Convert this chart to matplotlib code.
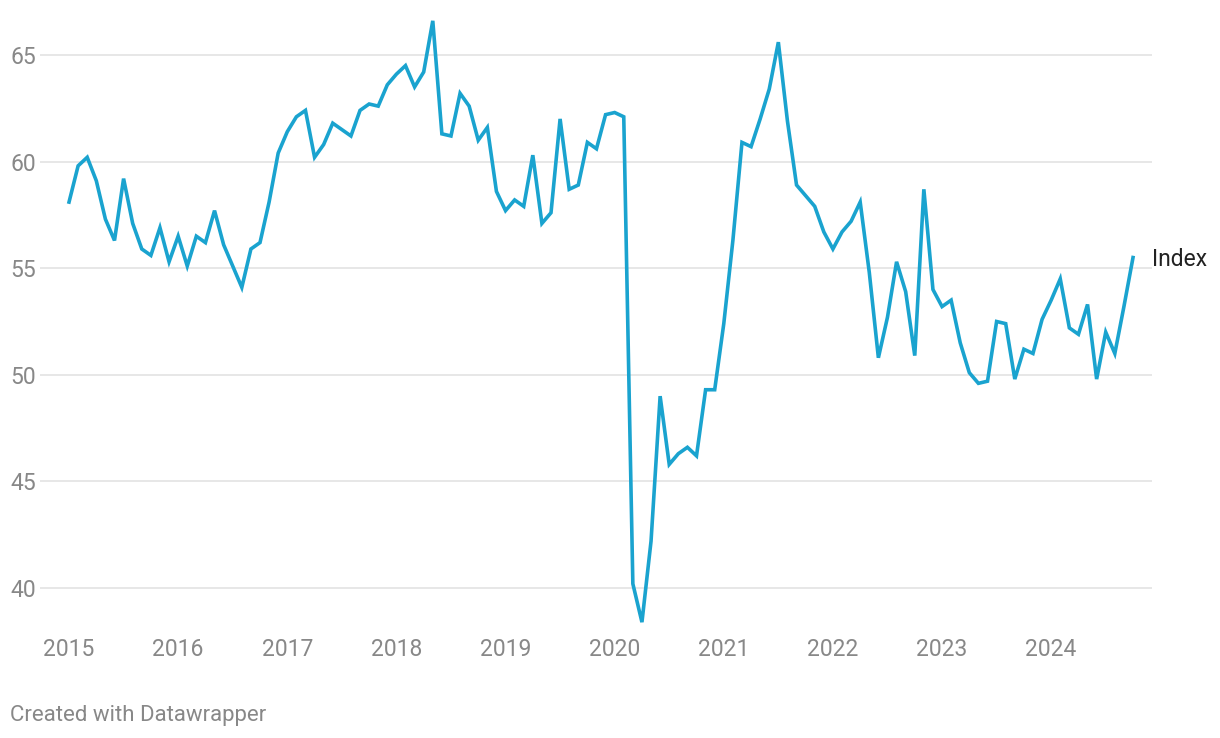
import numpy as np
import matplotlib.pyplot as plt

plt.rcParams['font.family'] = ['Roboto', 'DejaVu Sans']

# Monthly index values, Jan 2015 - Oct 2024
values = [
    58.1, 59.8, 60.2, 59.1, 57.3, 56.3, 59.2, 57.1, 55.9, 55.6, 56.9, 55.3,  # 2015
    56.5, 55.1, 56.5, 56.2, 57.7, 56.1, 55.1, 54.1, 55.9, 56.2, 58.1, 60.4,  # 2016
    61.4, 62.1, 62.4, 60.2, 60.8, 61.8, 61.5, 61.2, 62.4, 62.7, 62.6, 63.6,  # 2017
    64.1, 64.5, 63.5, 64.2, 66.6, 61.3, 61.2, 63.2, 62.6, 61.0, 61.6, 58.6,  # 2018
    57.7, 58.2, 57.9, 60.3, 57.1, 57.6, 62.0, 58.7, 58.9, 60.9, 60.6, 62.2,  # 2019
    62.3, 62.1, 40.2, 38.4, 42.2, 49.0, 45.8, 46.3, 46.6, 46.2, 49.3, 49.3,  # 2020
    52.4, 56.3, 60.9, 60.7, 62.0, 63.4, 65.6, 61.9, 58.9, 58.4, 57.9, 56.7,  # 2021
    55.9, 56.7, 57.2, 58.1, 54.8, 50.8, 52.7, 55.3, 53.9, 50.9, 58.7, 54.0,  # 2022
    53.2, 53.5, 51.5, 50.1, 49.6, 49.7, 52.5, 52.4, 49.8, 51.2, 51.0, 52.6,  # 2023
    53.5, 54.5, 52.2, 51.9, 53.3, 49.8, 52.0, 51.0, 53.2, 55.5,              # 2024
]
start_year = 2015
years = list(range(2015, 2025))
y_ticks = [40, 45, 50, 55, 60, 65]
series_label = "Index"

t = start_year + np.arange(len(values)) / 12.0

fig = plt.figure(figsize=(12.2, 7.38), dpi=100)
ax = fig.add_axes([40 / 1220, 1 - 630.7 / 738, (1152 - 40) / 1220, (630.7 - 12.3) / 738])

line_color = "#1aa3cf"
ax.plot(t, values, color=line_color, linewidth=2.6, solid_joinstyle="miter", clip_on=False, zorder=3)

ax.set_xlim(2014.734, 2024.924)
ax.set_ylim(38, 67)
ax.set_xticks(years)
ax.set_xticklabels([str(y) for y in years])
ax.set_yticks(y_ticks)
ax.yaxis.grid(True, color="#e3e3e3", linewidth=1.2)
ax.xaxis.grid(False)
for s in ax.spines.values():
    s.set_visible(False)
ax.tick_params(axis="both", length=0, labelsize=16.5, colors="#888888")
ax.tick_params(axis="x", pad=5)
ax.tick_params(axis="y", pad=3)

ax.annotate(series_label, xy=(t[-1], values[-1]), xytext=(14, -1.5), textcoords="offset points",
            va="center", ha="left", fontsize=16.5, color="#222222", annotation_clip=False)

fig.text(10 / 1220, 1 - 715 / 738, "Created with Datawrapper", fontsize=16,
         color="#888888", va="center", ha="left")

fig.savefig("out.png", dpi=100)
